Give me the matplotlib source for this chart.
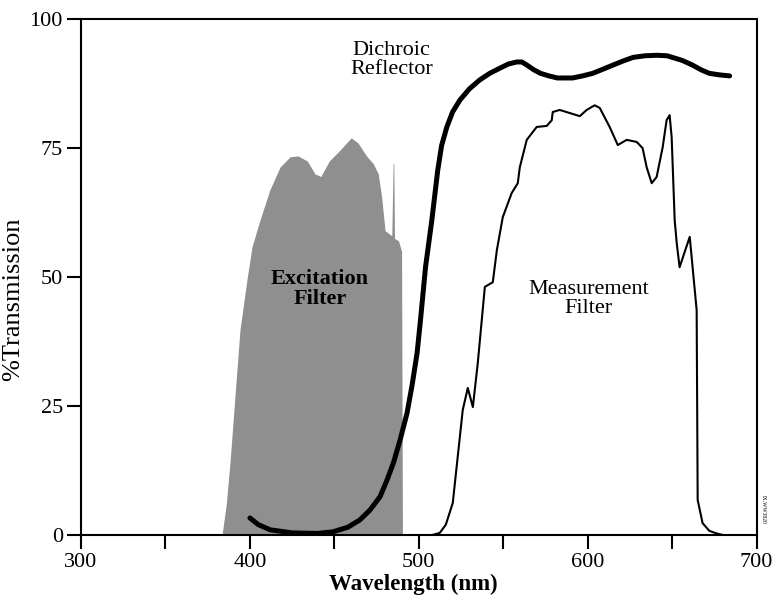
import matplotlib
matplotlib.use("Agg")
import matplotlib.pyplot as plt
import numpy as np

# Excitation filter (shaded)
exc_nm = [383.5, 386, 388.2, 391.1, 394.1, 398.2, 401.2, 405.9, 411.8, 417.8, 423.7,
          428.4, 434, 438.5, 442, 447, 453, 460, 464, 469, 473, 476, 478, 480,
          484, 484.8, 485.2, 485.6, 488, 489.8, 490.3]
exc_pct = [0, 6, 14, 26.7, 39.7, 49.4, 55.8, 61, 66.9, 71.3, 73.3,
           73.5, 72.5, 70, 69.5, 72.5, 74.5, 77, 76, 73.5, 72, 70, 65.5, 59,
           58, 72, 72, 57.5, 57, 55, 0]

# Dichroic reflector (thick line)
dic_nm = [400, 405, 412, 425, 440, 449, 458, 465, 471, 477, 481, 485, 489, 493,
          496, 499, 501, 504, 507.7, 511.2, 513.5, 516.6, 520, 524.3, 530, 536,
          542, 548, 553, 558, 561, 564, 568, 572, 577, 582, 591, 597, 603, 609,
          615, 621, 627, 634, 641, 647, 650, 656, 662, 667, 672, 678, 684]
dic_pct = [3.3, 2, 1, 0.4, 0.3, 0.6, 1.5, 2.9, 4.8, 7.4, 10.5, 14, 18.5, 23.6,
           29, 35.3, 41.7, 52, 61, 70.7, 75.5, 79.1, 82, 84.3, 86.5, 88.2,
           89.5, 90.5, 91.3, 91.7, 91.7, 91.1, 90.2, 89.5, 89, 88.6, 88.6, 89, 89.5, 90.3,
           91.1, 91.9, 92.6, 92.9, 93, 92.9, 92.6, 92, 91.1, 90.2, 89.5, 89.2, 89]

# Measurement filter (thin line)
mea_nm = [508, 512.4, 516, 520.1, 526.0, 529.0, 532.0, 534.9, 539.1, 543.8, 546.2,
          549.7, 555.0, 558.6, 559.8, 563.9, 569.8, 575.7, 578.7, 579.3, 583.4,
          595.3, 599.4, 604.1, 607.1, 613.0, 617.8, 623.1, 629.0, 632.5, 634.9,
          637.9, 640.8, 644.4, 646.7, 648.5, 649.7, 651.5, 652.7, 654.4, 660.4,
          664.5, 665.1, 668.0, 672, 676.3, 680]
mea_pct = [0, 0.4, 2, 6.2, 24.2, 28.5, 24.8, 33.3, 48.1, 49.0, 55.2,
           61.6, 66.3, 68.2, 71.3, 76.6, 79.1, 79.3, 80.4, 82.0, 82.4,
           81.2, 82.4, 83.3, 82.8, 79.1, 75.6, 76.6, 76.2, 75.0, 71.3,
           68.2, 69.4, 75.2, 80.4, 81.4, 77.1, 61.0, 56.6, 51.9, 57.8,
           43.6, 6.8, 2.3, 0.8, 0.3, 0]

x_ticks = [300, 400, 500, 600, 700]
y_ticks = [0, 25, 50, 75, 100]

plt.rcParams['font.family'] = ['Liberation Serif', 'DejaVu Serif']

fig = plt.figure(figsize=(7.73, 5.97), dpi=100)
ax = fig.add_axes([0.1048, 0.1039, 0.874, 0.864])

ax.fill_between(exc_nm, exc_pct, 0, color='#8f8f8f', lw=0)
ax.plot(dic_nm, dic_pct, color='black', lw=3.6, solid_capstyle='round')
ax.plot(mea_nm, mea_pct, color='black', lw=1.5)

ax.set_xlim(300, 700)
ax.set_ylim(0, 100)
ax.set_xticks(x_ticks)
ax.set_xticks([350, 450, 550, 650], minor=True)
ax.set_yticks(y_ticks)
ax.tick_params(axis='both', direction='out', length=10, width=1.5, labelsize=16, pad=3)
ax.tick_params(axis='x', which='minor', direction='out', length=10, width=1.5)
for s in ax.spines.values():
    s.set_linewidth(1.5)

ax.set_xlabel('Wavelength (nm)', fontsize=16.5, fontweight='bold')
ax.xaxis.set_label_coords(0.492, -0.075)
ax.set_ylabel('%Transmission', fontsize=19)
ax.yaxis.set_label_coords(-0.084, 0.457)

ax.text(484, 92, 'Dichroic\nReflector', fontsize=16, ha='center', va='center', linespacing=1.0)
ax.text(441.4, 47.7, 'Excitation\nFilter', fontsize=16, fontweight='bold',
        ha='center', va='center', linespacing=1.0)
ax.text(600.6, 45.7, 'Measurement\nFilter', fontsize=16, ha='center', va='center', linespacing=1.0)
ax.text(704, 5, 'IX.WW3820', fontsize=4, rotation=270, ha='center', va='center')

fig.savefig('out.png', dpi=100)
